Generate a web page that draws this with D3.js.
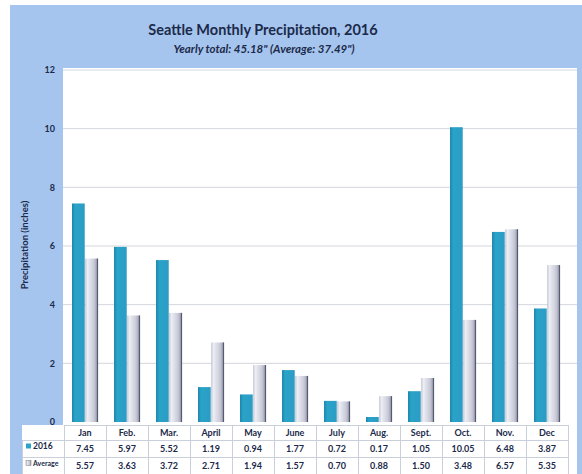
<!DOCTYPE html>
<html lang="en">
<head>
<meta charset="UTF-8">
<title>Seattle Monthly Precipitation, 2016</title>
<script src="https://d3js.org/d3.v7.min.js"></script>
<style>
  body { margin: 0; background: #fff; }
  svg { display: block; font-family: "Lato", sans-serif; }
</style>
</head>
<body>
<div id="chart"></div>
<script>
  // data
  const months = ["Jan", "Feb.", "Mar.", "April", "May", "June", "July", "Aug.", "Sept.", "Oct.", "Nov.", "Dec"];
  const values2016 = [7.45, 5.97, 5.52, 1.19, 0.94, 1.77, 0.72, 0.17, 1.05, 10.05, 6.48, 3.87];
  const valuesAvg = [5.57, 3.63, 3.72, 2.71, 1.94, 1.57, 0.70, 0.88, 1.50, 3.48, 6.57, 5.35];
  const seriesNames = ["2016", "Average"];
  const yTicks = [0, 2, 4, 6, 8, 10, 12];

  const W = 582, H = 474;
  const plot = { left: 63, right: 577, top: 68, bottom: 425 };

  const svg = d3.select("#chart").append("svg")
    .attr("width", W).attr("height", H);

  // gradients
  const defs = svg.append("defs");
  const g1 = defs.append("linearGradient").attr("id", "gBlue").attr("x1", 0).attr("x2", 1);
  g1.append("stop").attr("offset", "0%").attr("stop-color", "#1d86ad");
  g1.append("stop").attr("offset", "25%").attr("stop-color", "#2aa3c9");
  g1.append("stop").attr("offset", "100%").attr("stop-color", "#2c9cc4");
  const g2 = defs.append("linearGradient").attr("id", "gAvg").attr("x1", 0).attr("x2", 1);
  g2.append("stop").attr("offset", "0%").attr("stop-color", "#b9bccb");
  g2.append("stop").attr("offset", "15%").attr("stop-color", "#eef0f6");
  g2.append("stop").attr("offset", "70%").attr("stop-color", "#c8c9d7");
  g2.append("stop").attr("offset", "100%").attr("stop-color", "#8e8fa3");

  // blue frame
  svg.append("rect").attr("x", 10).attr("y", 5).attr("width", W - 10).attr("height", H - 5)
    .attr("fill", "#a5c5ee");
  // white plot area
  svg.append("rect").attr("x", plot.left).attr("y", plot.top)
    .attr("width", plot.right - plot.left).attr("height", plot.bottom - plot.top)
    .attr("fill", "#ffffff");
  // white table area
  svg.append("rect").attr("x", 22).attr("y", plot.bottom)
    .attr("width", plot.right - 22).attr("height", H - plot.bottom)
    .attr("fill", "#ffffff");

  // titles
  svg.append("text").attr("x", 263).attr("y", 35).attr("text-anchor", "middle")
    .attr("font-size", 14.5).attr("font-weight", "bold").attr("fill", "#1c2a4a")
    .text("Seattle Monthly Precipitation, 2016");
  svg.append("text").attr("x", 264).attr("y", 53).attr("text-anchor", "middle")
    .attr("font-size", 11.5).attr("font-weight", "bold").attr("font-style", "italic").attr("fill", "#1c2a4a")
    .text("Yearly total: 45.18\" (Average: 37.49\")");

  // scales
  const x = d3.scaleBand().domain(months).range([64, 568]);
  const xs = d3.scaleBand().domain(seriesNames).range([8, 34]).paddingInner(0.04);
  const y = d3.scaleLinear().domain([0, 12]).range([422, 70]);

  // gridlines
  svg.append("g").selectAll("line").data(yTicks.filter(d => d > 0)).join("line")
    .attr("x1", plot.left).attr("x2", plot.right)
    .attr("y1", d => y(d)).attr("y2", d => y(d))
    .attr("stroke", "#d4d6dc").attr("stroke-width", 1);

  // y axis
  const yAxis = svg.append("g").attr("transform", "translate(55,0)")
    .call(d3.axisLeft(y).tickValues(yTicks).tickSize(0).tickPadding(0));
  yAxis.select(".domain").remove();
  yAxis.selectAll("text").attr("font-size", 9).attr("font-weight", "bold")
    .attr("fill", "#1c2a4a").attr("font-family", "Lato, sans-serif");

  svg.append("text").attr("transform", "translate(28,245) rotate(-90)")
    .attr("text-anchor", "middle").attr("font-size", 9.5).attr("font-weight", "bold")
    .attr("fill", "#1c2a4a").text("Precipitation (inches)");

  // bars
  const rows = months.map((m, i) => ({ m, v: [values2016[i], valuesAvg[i]] }));
  const groups = svg.append("g").selectAll("g").data(rows).join("g")
    .attr("transform", d => `translate(${x(d.m)},0)`);
  groups.append("rect")
    .attr("x", xs("2016")).attr("width", xs.bandwidth())
    .attr("y", d => y(d.v[0])).attr("height", d => y(0) - y(d.v[0]))
    .attr("fill", "url(#gBlue)");
  groups.append("rect")
    .attr("x", xs("Average")).attr("width", xs.bandwidth())
    .attr("y", d => y(d.v[1])).attr("height", d => y(0) - y(d.v[1]))
    .attr("fill", "url(#gAvg)");
  groups.append("line")
    .attr("x1", xs("Average") + xs.bandwidth() - 0.5).attr("x2", xs("Average") + xs.bandwidth() - 0.5)
    .attr("y1", d => y(d.v[1])).attr("y2", y(0))
    .attr("stroke", "#555a6e").attr("stroke-width", 1.2);

  // data table
  const rowY = [plot.bottom, 440, 457, 474];
  const table = svg.append("g");
  const lineCol = "#c9d0dc";
  rowY.slice(0, 3).forEach((ry, i) => {
    table.append("line").attr("x1", i === 0 ? 64 : 22).attr("x2", 568)
      .attr("y1", ry + 0.5).attr("y2", ry + 0.5).attr("stroke", lineCol);
  });
  table.selectAll(".vl").data(months.concat(["end"])).join("line")
    .attr("x1", (d, i) => i < 12 ? x(d) + 0.5 : 568.5)
    .attr("x2", (d, i) => i < 12 ? x(d) + 0.5 : 568.5)
    .attr("y1", plot.bottom).attr("y2", H).attr("stroke", lineCol);
  table.append("line").attr("x1", 22.5).attr("x2", 22.5).attr("y1", 440).attr("y2", H).attr("stroke", lineCol);

  const txt = (sel) => sel.attr("text-anchor", "middle").attr("font-size", 9)
    .attr("font-weight", "bold").attr("fill", "#1c2a4a");
  table.selectAll(".mh").data(months).join("text")
    .attr("x", d => x(d) + x.bandwidth() / 2).attr("y", 436).call(txt).text(d => d);
  table.selectAll(".v1").data(rows).join("text")
    .attr("x", d => x(d.m) + x.bandwidth() / 2).attr("y", 452).call(txt)
    .text(d => d.v[0].toFixed(2));
  table.selectAll(".v2").data(rows).join("text")
    .attr("x", d => x(d.m) + x.bandwidth() / 2).attr("y", 469).call(txt)
    .text(d => d.v[1].toFixed(2));

  // legend keys in row headers
  const keyFill = ["#2aa3c9", "url(#gAvg)"];
  seriesNames.forEach((s, i) => {
    const yy = [448.5, 465.5][i];
    table.append("rect").attr("x", 26).attr("y", yy - 5).attr("width", 5).attr("height", 5)
      .attr("fill", keyFill[i]).attr("stroke", i ? "#777" : "none").attr("stroke-width", 0.5);
    table.append("text").attr("x", 33).attr("y", yy).attr("font-size", i ? 7 : 8.5)
      .attr("font-weight", "bold").attr("fill", "#1c2a4a").text(s);
  });
</script>
</body>
</html>
